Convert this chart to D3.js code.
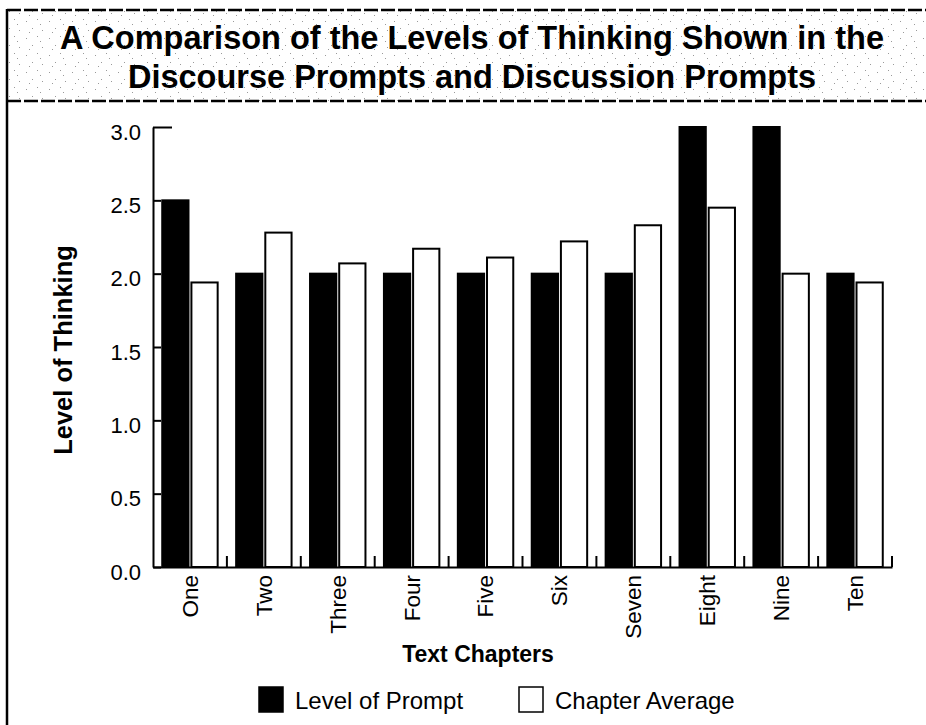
<!DOCTYPE html>
<html>
<head>
<meta charset="utf-8">
<script src="https://cdn.jsdelivr.net/npm/d3@7"></script>
<style>
  body { margin: 0; background: #fff; }
  svg { display: block; font-family: "Liberation Sans", Arial, Helvetica, sans-serif; }
</style>
</head>
<body>
<div id="chart"></div>
<script>
const chapters = ["One", "Two", "Three", "Four", "Five", "Six", "Seven", "Eight", "Nine", "Ten"];
const promptLevel = [2.5, 2.0, 2.0, 2.0, 2.0, 2.0, 2.0, 3.0, 3.0, 2.0];
const chapterAverage = [1.94, 2.28, 2.07, 2.17, 2.11, 2.22, 2.33, 2.45, 2.0, 1.94];
const seriesNames = ["Level of Prompt", "Chapter Average"];
const yTicks = [0, 0.5, 1, 1.5, 2, 2.5, 3];
const titleLines = ["A Comparison of the Levels of Thinking Shown in the",
                    "Discourse Prompts and Discussion Prompts"];

(function chart() {
  const width = 926, height = 725,
    margin = ({ top: 127, right: 34, bottom: 158, left: 153 });

  const svg = d3.select("#chart")
    .append("svg")
    .attr("width", width)
    .attr("height", height)
    .attr("viewBox", [0, 0, width, height]);

  // speckled background for title box
  const pat = svg.append("defs").append("pattern")
    .attr("id", "speck")
    .attr("width", 23).attr("height", 17)
    .attr("patternUnits", "userSpaceOnUse");
  [[3, 4], [14, 2], [9, 11], [19, 13], [6, 15], [17, 7]].forEach(p => {
    pat.append("rect").attr("x", p[0]).attr("y", p[1])
      .attr("width", 1).attr("height", 1).attr("fill", "#9a9a9a");
  });

  svg.append("rect")
    .attr("x", 7).attr("y", 10).attr("width", width - 7).attr("height", 91)
    .attr("fill", "url(#speck)");

  // frame
  svg.append("line").attr("x1", 7).attr("x2", width).attr("y1", 10).attr("y2", 10)
    .attr("stroke", "#000").attr("stroke-width", 2.5).attr("stroke-dasharray", "14,3");
  svg.append("line").attr("x1", 7).attr("x2", width).attr("y1", 101).attr("y2", 101)
    .attr("stroke", "#000").attr("stroke-width", 2.5).attr("stroke-dasharray", "14,3");
  svg.append("line").attr("x1", 7).attr("x2", 7).attr("y1", 9).attr("y2", height)
    .attr("stroke", "#000").attr("stroke-width", 2.5);

  svg.append("text")
    .attr("x", 472).attr("y", 49)
    .attr("text-anchor", "middle")
    .style("font-size", "32.5px").style("font-weight", "bold")
    .selectAll("tspan")
    .data(titleLines)
    .join("tspan")
    .attr("x", 472)
    .attr("dy", (d, i) => i ? 39 : 0)
    .text(d => d);

  const x = d3.scaleBand(chapters, [margin.left, width - margin.right])
    .paddingInner(0.25).paddingOuter(0.125);
  const xs = d3.scaleBand(seriesNames, [0, x.bandwidth()]).paddingInner(0.1);
  const y = d3.scaleLinear([0, 3], [height - margin.bottom, margin.top]);

  const color = d3.scaleOrdinal(seriesNames, ["#000", "#fff"]);

  const rows = chapters.map((c, i) => ({ chapter: c, values: [promptLevel[i], chapterAverage[i]] }));

  svg.append("g")
    .selectAll("g")
    .data(rows)
    .join("g")
    .attr("transform", d => `translate(${x(d.chapter)},0)`)
    .selectAll("rect")
    .data(d => d.values.map((v, j) => ({ key: seriesNames[j], value: v })))
    .join("rect")
    .attr("x", d => xs(d.key))
    .attr("y", d => y(d.value))
    .attr("width", xs.bandwidth())
    .attr("height", d => y(0) - y(d.value))
    .attr("fill", d => color(d.key))
    .attr("stroke", "#000")
    .attr("stroke-width", 2);

  // y axis, ticks pointing inward
  const yAxis = svg.append("g")
    .attr("transform", `translate(${margin.left},0)`)
    .call(d3.axisLeft(y).tickValues(yTicks).tickFormat(d3.format(".1f"))
      .tickSize(-8).tickSizeOuter(0).tickPadding(12));
  yAxis.select(".domain").attr("stroke-width", 2);
  yAxis.selectAll(".tick line").attr("stroke-width", 2);
  yAxis.selectAll(".tick").filter(d => d === 3).select("line").attr("x2", 19);
  yAxis.selectAll(".tick text")
    .attr("dy", "0.55em")
    .style("font-size", "22px").attr("fill", "#000");

  // x axis, labels rotated
  const xAxis = svg.append("g")
    .attr("transform", `translate(0,${height - margin.bottom})`)
    .call(d3.axisBottom(x).tickSize(0).tickSizeOuter(0).tickPadding(0));
  xAxis.select(".domain").attr("stroke-width", 2);
  xAxis.selectAll(".tick text")
    .attr("y", 0).attr("x", -8).attr("dy", "0.35em")
    .attr("transform", "rotate(-90)")
    .attr("text-anchor", "end")
    .style("font-size", "22.5px").attr("fill", "#000");

  // separator ticks between chapters
  xAxis.append("g")
    .selectAll("line")
    .data(chapters)
    .join("line")
    .attr("x1", d => x(d) + x.bandwidth() + x.step() * x.paddingInner() / 2)
    .attr("x2", d => x(d) + x.bandwidth() + x.step() * x.paddingInner() / 2)
    .attr("y1", 0).attr("y2", -11)
    .attr("stroke", "#000").attr("stroke-width", 2);

  svg.append("text")
    .attr("transform", `translate(72,350) rotate(-90)`)
    .attr("text-anchor", "middle")
    .style("font-size", "25.5px").style("font-weight", "bold")
    .text("Level of Thinking");

  svg.append("text")
    .attr("x", 478).attr("y", 662)
    .attr("text-anchor", "middle")
    .style("font-size", "23px").style("font-weight", "bold")
    .text("Text Chapters");

  // legend
  const legendX = [259, 519];
  const legend = svg.append("g")
    .selectAll("g")
    .data(seriesNames)
    .join("g")
    .attr("transform", (d, i) => `translate(${legendX[i]},687)`);
  legend.append("rect")
    .attr("width", 24).attr("height", 25)
    .attr("fill", d => color(d))
    .attr("stroke", "#000").attr("stroke-width", 1.5);
  legend.append("text")
    .attr("x", 36).attr("y", 22)
    .style("font-size", "24px")
    .text(d => d);
})();
</script>
</body>
</html>
